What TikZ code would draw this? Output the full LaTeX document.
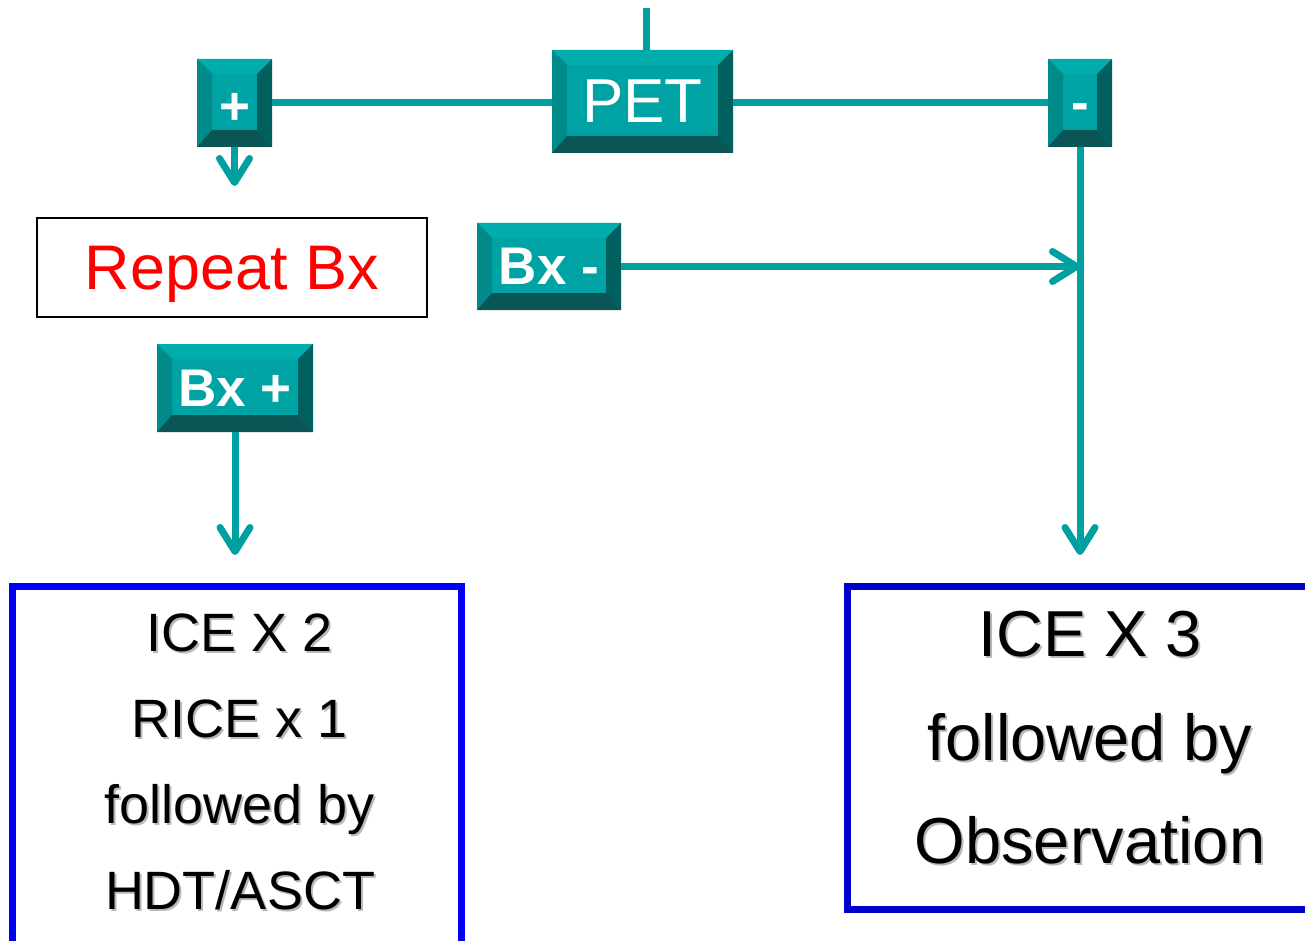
\documentclass[tikz,border=0pt]{standalone}
\usepackage{fontspec}
\setmainfont{Liberation Sans}
\usepackage{xcolor}
\usetikzlibrary{arrows.meta, positioning, calc}

\definecolor{btnface}{RGB}{0,163,163}
\definecolor{btntop}{RGB}{0,172,172}
\definecolor{btnleft}{RGB}{0,138,138}
\definecolor{btnright}{RGB}{0,96,96}
\definecolor{btnbot}{RGB}{10,86,86}
\definecolor{linkteal}{RGB}{0,160,160}
\definecolor{boxblue}{RGB}{0,0,250}
\definecolor{boxdblue}{RGB}{0,0,205}

\newlength{\bevw}\setlength{\bevw}{7.5pt}
\newlength{\bevb}\setlength{\bevb}{8.5pt}
\newcommand{\shtext}[1]{\makebox[0pt][l]{\hspace{1pt}\raisebox{-1pt}{\textcolor{gray!55}{#1}}}#1}

\tikzset{
  btn/.style   = {rectangle, fill=btnface, text=white, inner sep=0pt,
                  font=\bfseries\fontsize{26.5}{30}\selectfont,
                  path picture={
                    \path (path picture bounding box.north west) coordinate (pnw)
                          (path picture bounding box.north east) coordinate (pne)
                          (path picture bounding box.south west) coordinate (psw)
                          (path picture bounding box.south east) coordinate (pse);
                    \fill[btntop] (pnw) -- (pne) -- ([shift={(-\bevw,-\bevw)}]pne)
                      -- ([shift={(\bevw,-\bevw)}]pnw) -- cycle;
                    \fill[btnleft] (pnw) -- ([shift={(\bevw,-\bevw)}]pnw)
                      -- ([shift={(\bevw,\bevb)}]psw) -- (psw) -- cycle;
                    \fill[btnright] (pne) -- (pse) -- ([shift={(-\bevw,\bevb)}]pse)
                      -- ([shift={(-\bevw,-\bevw)}]pne) -- cycle;
                    \fill[btnbot] (psw) -- (pse) -- ([shift={(-\bevw,\bevb)}]pse)
                      -- ([shift={(\bevw,\bevb)}]psw) -- cycle;
                  }},
  bigbtn/.style = {btn, font=\fontsize{31}{36}\selectfont},
  plainbox/.style = {rectangle, draw=black, line width=1pt, inner sep=0pt,
                  text=red, text depth=0pt, font=\fontsize{31.5}{36}\selectfont},
  bluebox/.style  = {rectangle, draw=boxblue, line width=3.5pt, inner sep=0pt},
  dbluebox/.style = {bluebox, draw=boxdblue},
  boxtext/.style  = {align=center, inner sep=0pt, anchor=north},
  link/.style  = {draw=linkteal, line width=3.5pt},
  arr/.style   = {link, -{Straight Barb[length=12pt,width=15pt,line width=3.5pt,round]}},
}

\begin{document}
\begin{tikzpicture}[x=0.5pt, y=-0.5pt]
  \clip (0,0) rectangle (1305,941);

  % buttons
  \node[bigbtn, minimum width=90.5pt, minimum height=51.5pt] (pet) at (642.5,101.5) {PET};
  \node[btn, minimum width=37.5pt, minimum height=44pt] (plus) at (234.5,103) {\raisebox{-11pt}[0pt][0pt]{+}};
  \node[btn, minimum width=32pt, minimum height=44pt] (minus) at (1080,103) {\raisebox{-9pt}[0pt][0pt]{-}};
  \node[btn, minimum width=72pt, minimum height=43.5pt] (bxneg) at (549,266.5) {Bx -};
  \node[btn, minimum width=78pt, minimum height=44pt] (bxpos) at (235,388) {Bx +};

  % boxes
  \node[plainbox, minimum width=195pt, minimum height=49.5pt] (repeat) at (232,267.5) {Repeat Bx};
  \node[bluebox, minimum width=224.5pt, minimum height=201.75pt] (icetwo) at (237,788.25) {};
  \node[dbluebox, minimum width=246.25pt, minimum height=161.5pt] (icethree) at (1093.75,748) {};
  \node[boxtext, font=\fontsize{27}{43}\selectfont] (icetwotxt) at (240,613)
    {\shtext{ICE X 2}\\\shtext{RICE x 1}\\\shtext{followed by}\\\shtext{HDT/ASCT}};
  \node[boxtext, font=\fontsize{32.5}{51.75}\selectfont] (icethreetxt) at (1090,611)
    {\shtext{ICE X 3}\\\shtext{followed by}\\\shtext{Observation}};

  % connectors
  \coordinate (petin) at (646,8);
  \coordinate (plusend) at (234.5,186);
  \coordinate (bxposend) at (235,555);
  \coordinate (minusend) at (1080,555);
  \draw[link] (petin) -- (petin |- pet.north);
  \draw[link] (plus.east) -- (plus.east -| pet.west);
  \draw[link] (pet.east |- minus.west) -- (minus.west);
  \draw[arr] (plus.south) -- (plusend);
  \draw[arr] (bxpos.south) -- (bxposend);
  \draw[arr] (minus.south) -- (minusend);
  \draw[arr] (bxneg.east) -- (bxneg.east -| minus.south);
\end{tikzpicture}
\end{document}
